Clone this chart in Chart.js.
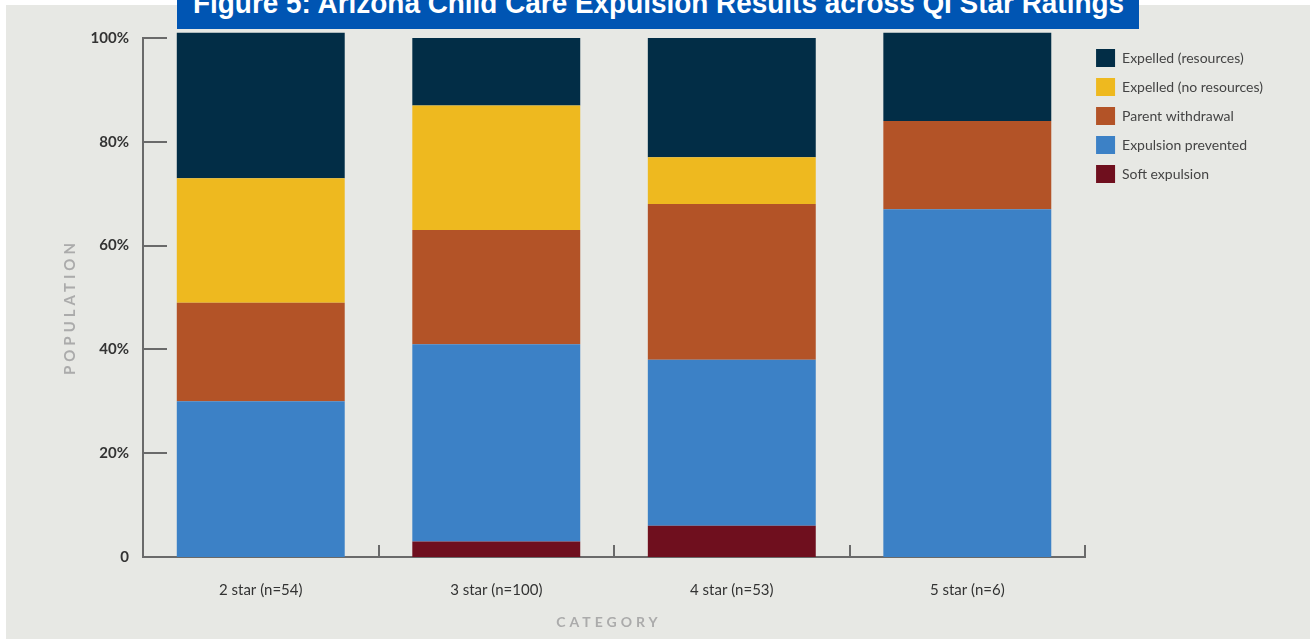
<!DOCTYPE html>
<html>
<head>
<meta charset="utf-8">
<script src="https://cdn.jsdelivr.net/npm/chart.js@4.4.1/dist/chart.umd.min.js"></script>
<style>
  html, body { margin: 0; padding: 0; background: #ffffff; }
  body { width: 1310px; height: 639px; position: relative; overflow: hidden; }
  #fond { position: absolute; left: 6px; top: 5px; right: 0; bottom: 0; background: #e7e8e4; }
  #titre {
    position: absolute; left: 177px; top: 0; width: 962px; height: 29px;
    background: #0055b3; overflow: hidden;
  }
  #titre span {
    position: absolute; left: 16px; top: -12px; line-height: 30px;
    font-family: "Liberation Sans", Arial, sans-serif;
    font-weight: bold; font-size: 30px; color: #ffffff; white-space: nowrap;
    transform-origin: left top;
  }
  #graphique { position: absolute; left: 0; top: 0; }
</style>
</head>
<body>
<div id="fond"></div>
<canvas id="graphique" width="1310" height="639"></canvas>
<div id="titre"><span>Figure 5: Arizona Child Care Expulsion Results across QI Star Ratings</span></div>
<script>
// Catégories et valeurs (en %)
const categories = ['2 star (n=54)', '3 star (n=100)', '4 star (n=53)', '5 star (n=6)'];
const softExpulsion = [0, 3, 6, 0];
const expulsionPrevented = [30, 38, 32, 67];
const parentWithdrawal = [19, 22, 30, 17];
const expelledNoResources = [24, 24, 9, 0];
const expelledResources = [28, 13, 23, 17];
const yTicks = [0, 20, 40, 60, 80, 100];

const POLICE = 'Lato, "Noto Sans", sans-serif';
const AXE = '#6a6a6a';

// Le titre est en police étroite dans l'original : on resserre la Liberation Sans
const spanTitre = document.querySelector('#titre span');
spanTitre.style.transform = 'scaleX(' + (931 / spanTitre.getBoundingClientRect().width) + ')';

// Petits traits d'axe tournés vers l'intérieur + titres d'axes espacés
const decorAxes = {
  id: 'decorAxes',
  afterDraw(chart) {
    const ctx = chart.ctx;
    const area = chart.chartArea;
    const x = chart.scales.x;
    const y = chart.scales.y;
    ctx.save();
    ctx.strokeStyle = AXE;
    ctx.lineWidth = 2;
    yTicks.slice(1).forEach(v => {
      const py = Math.round(y.getPixelForValue(v));
      ctx.beginPath();
      ctx.moveTo(area.left, py);
      ctx.lineTo(area.left + 24, py);
      ctx.stroke();
    });
    for (let i = 0; i < categories.length; i++) {
      const px = i < categories.length - 1
        ? (x.getPixelForValue(i) + x.getPixelForValue(i + 1)) / 2
        : area.right;
      ctx.beginPath();
      ctx.moveTo(Math.round(px), area.bottom);
      ctx.lineTo(Math.round(px), area.bottom - 12);
      ctx.stroke();
    }

    ctx.fillStyle = '#ababab';
    ctx.font = 'bold 14px ' + POLICE;
    ctx.letterSpacing = '4px';
    ctx.textAlign = 'center';
    ctx.textBaseline = 'middle';
    ctx.fillText('CATEGORY', 609, 622);
    ctx.translate(70, 309);
    ctx.rotate(-Math.PI / 2);
    ctx.font = 'bold 15px ' + POLICE;
    ctx.letterSpacing = '4px';
    ctx.fillText('POPULATION', 2, 0);
    ctx.restore();
  }
};

const communs = { clip: false, borderWidth: 0 };

new Chart(document.getElementById('graphique'), {
  type: 'bar',
  data: {
    labels: categories,
    datasets: [
      { label: 'Soft expulsion', data: softExpulsion, backgroundColor: '#6f0f1e', ...communs },
      { label: 'Expulsion prevented', data: expulsionPrevented, backgroundColor: '#3c81c6', ...communs },
      { label: 'Parent withdrawal', data: parentWithdrawal, backgroundColor: '#b35327', ...communs },
      { label: 'Expelled (no resources)', data: expelledNoResources, backgroundColor: '#eeb91f', ...communs },
      { label: 'Expelled (resources)', data: expelledResources, backgroundColor: '#022d46', ...communs }
    ]
  },
  options: {
    responsive: false,
    animation: false,
    devicePixelRatio: 1,
    events: [],
    barPercentage: 0.713,
    categoryPercentage: 1,
    layout: { padding: { left: 83, top: 38, right: 37, bottom: 22 } },
    plugins: {
      tooltip: { enabled: false },
      legend: {
        position: 'right',
        align: 'start',
        reverse: true,
        labels: {
          boxWidth: 19,
          boxHeight: 18,
          padding: 11,
          color: '#444444',
          font: { family: POLICE, size: 14 }
        }
      }
    },
    scales: {
      x: {
        stacked: true,
        grid: { display: false, drawTicks: false },
        border: { display: true, color: AXE, width: 2 },
        ticks: { color: '#333333', padding: 24, font: { family: POLICE, size: 15 } },
        afterFit: s => { s.height = 60; }
      },
      y: {
        stacked: true,
        min: 0,
        max: 100,
        grid: { display: false, drawTicks: false },
        border: { display: true, color: AXE, width: 2 },
        ticks: {
          stepSize: 20,
          padding: 14,
          color: '#333333',
          font: { family: POLICE, size: 15, weight: 'bold' },
          callback: v => (v === 0 ? '0' : v + '%')
        },
        afterFit: s => { s.width = 60; }
      }
    }
  },
  plugins: [decorAxes]
});
</script>
</body>
</html>
